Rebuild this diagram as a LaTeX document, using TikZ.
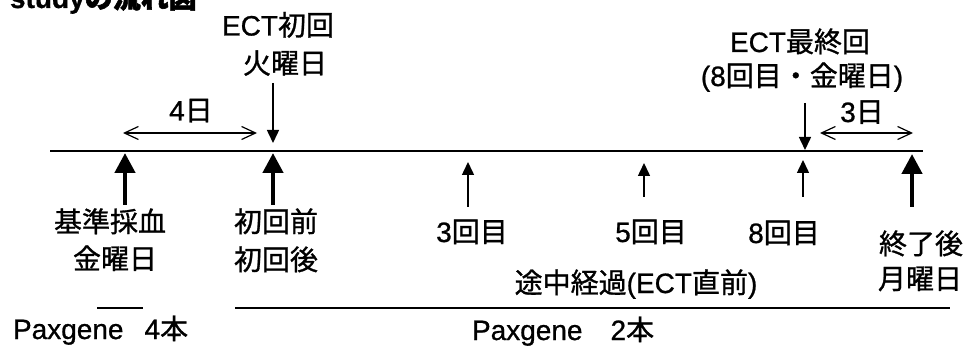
\documentclass[tikz,border=0pt]{standalone}
\usepackage{fontspec}
\setmainfont[FakeBold=0.8]{Liberation Sans}
\newfontfamily\jp[FakeBold=1]{Noto Sans CJK JP}
\newfontfamily\jpb[FakeBold=2]{Noto Sans CJK JP}
\usetikzlibrary{arrows.meta}
\tikzset{
  lbl/.style={anchor=base, inner sep=0pt, outer sep=0pt, font=\fontsize{28}{30}\selectfont},
  lblw/.style={lbl, anchor=base west},
  mainline/.style={line width=2.5pt},
  thickup/.style={line width=4.5pt, -{Triangle[length=20pt,width=20pt]}},
  thinup/.style={line width=1.5pt, -{Triangle[length=13pt,width=12pt]}},
  spanarrow/.style={line width=1.2pt, {Straight Barb[length=14pt,width=13pt]}-{Straight Barb[length=14pt,width=13pt]}},
  groupline/.style={line width=2pt},
}
\begin{document}
\begin{tikzpicture}[x=1pt,y=-1pt]
\useasboundingbox (0,0) rectangle (965,347);
\fill[white] (0,0) rectangle (965,347);

% title (cut at the top, as in the reference)
\node[lblw, font=\fontsize{28}{30}\selectfont\bfseries] (title) at (10,8) {study{\jpb の流れ図}};

% time line
\coordinate (L) at (50,151);
\coordinate (R) at (923,151);
\draw[mainline] (L) -- (R);

% upper labels
\node[lbl] (ect1a) at (278,35.5) {ECT{\jp 初回}};
\node[lbl] (ect1b) at (285,73.5) {{\jp 火曜日}};
\node[lbl] (ectLa) at (800,52) {ECT{\jp 最終回}};
\node[lbl] (ectLb) at (802,86) {(8{\jp 回目・金曜日})};
\node[lbl] (d4) at (191,120.5) {4{\jp 日}};
\node[lbl] (d3) at (862,122) {3{\jp 日}};

% day spans
\coordinate (s4a) at (123,133);
\coordinate (s4b) at (257,133);
\draw[spanarrow] (s4a) -- (s4b);
\coordinate (s3a) at (820,133);
\coordinate (s3b) at (913,133);
\draw[spanarrow] (s3a) -- (s3b);

% down arrows
\coordinate (dn1s) at (273,83);
\coordinate (dn1e) at (273,143);
\draw[thinup] (dn1s) -- (dn1e);
\coordinate (dn2s) at (805,103);
\coordinate (dn2e) at (805,150);
\draw[thinup] (dn2s) -- (dn2e);

% thick up arrows
\coordinate (u1b) at (125,205);
\coordinate (u1t) at (125,153);
\draw[thickup] (u1b) -- (u1t);
\coordinate (u2b) at (273,205);
\coordinate (u2t) at (273,153);
\draw[thickup] (u2b) -- (u2t);
\coordinate (u9b) at (912,207);
\coordinate (u9t) at (912,154);
\draw[thickup] (u9b) -- (u9t);

% thin up arrows
\coordinate (u3b) at (468,207);
\coordinate (u3t) at (468,162);
\draw[thinup] (u3b) -- (u3t);
\coordinate (u5b) at (644,197);
\coordinate (u5t) at (644,163);
\draw[thinup] (u5b) -- (u5t);
\coordinate (u8b) at (803,197);
\coordinate (u8t) at (803,160);
\draw[thinup] (u8b) -- (u8t);

% lower labels
\node[lbl] (k1) at (110,232) {{\jp 基準採血}};
\node[lbl] (k2) at (115,269) {{\jp 金曜日}};
\node[lbl] (f1) at (276,232) {{\jp 初回前}};
\node[lbl] (f2) at (276,270) {{\jp 初回後}};
\node[lbl] (c3) at (472,242) {3{\jp 回目}};
\node[lbl] (c5) at (651,242) {5{\jp 回目}};
\node[lbl] (c8) at (784,243) {8{\jp 回目}};
\node[lbl] (e1) at (921,254) {{\jp 終了後}};
\node[lbl] (e2) at (920,289) {{\jp 月曜日}};
\node[lbl] (mid) at (636,293) {{\jp 途中経過}(ECT{\jp 直前})};

% grouping lines
\coordinate (g1a) at (97,308);
\coordinate (g1b) at (143,308);
\draw[groupline] (g1a) -- (g1b);
\coordinate (g2a) at (235,308);
\coordinate (g2b) at (950,308);
\draw[groupline] (g2a) -- (g2b);

\node[lblw] (p4) at (13,339) {Paxgene\hspace{21pt}4{\jp 本}};
\node[lblw] (p2) at (472,340) {Paxgene\hspace{28pt}2{\jp 本}};
\end{tikzpicture}
\end{document}
